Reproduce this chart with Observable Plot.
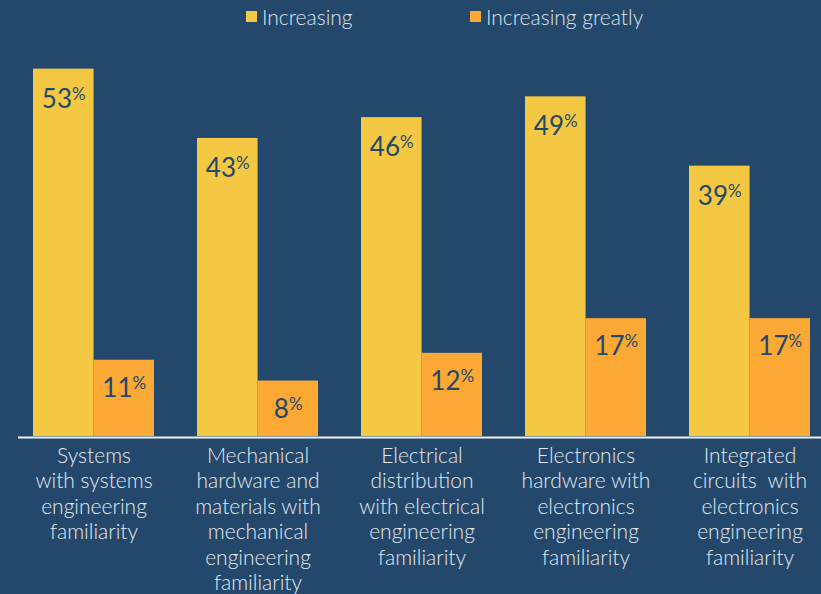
<!DOCTYPE html>
<html>
<head>
<meta charset="utf-8">
<script src="https://cdn.jsdelivr.net/npm/d3@7"></script>
<script src="https://cdn.jsdelivr.net/npm/@observablehq/plot@0.6"></script>
<style>
  html, body { margin: 0; padding: 0; background: #24486b; }
  #wrap { position: relative; width: 821px; height: 594px; background: #24486b; overflow: hidden; font-family: Lato, "Open Sans", sans-serif; }
  #legend { position: absolute; top: 0; left: 0; width: 821px; height: 36px; color: #dde5ee; font-size: 21px; font-weight: 300; }
  .item { position: absolute; top: 4px; display: flex; align-items: center; }
  .sw { width: 11px; height: 11px; margin-right: 5px; }
  #chart svg { display: block; }
</style>
</head>
<body>
<div id="wrap">
  <div id="chart"></div>
  <div id="legend"></div>
</div>
<script>
const categories = [
  "Systems\nwith systems\nengineering\nfamiliarity",
  "Mechanical\nhardware and\nmaterials with\nmechanical\nengineering\nfamiliarity",
  "Electrical\ndistribution\nwith electrical\nengineering\nfamiliarity",
  "Electronics\nhardware with\nelectronics\nengineering\nfamiliarity",
  "Integrated\ncircuits  with\nelectronics\nengineering\nfamiliarity"
];
const series = ["Increasing", "Increasing greatly"];
const increasing = [53, 43, 46, 49, 39];
const increasingGreatly = [11, 8, 12, 17, 17];
const colors = ["#f5c843", "#fba834"];

const dataInc = categories.map((c, i) => ({category: c, value: increasing[i]}));
const dataGreat = categories.map((c, i) => ({category: c, value: increasingGreatly[i]}));

// legend
const legend = document.getElementById("legend");
const legendLeft = [246, 470];
series.forEach((s, i) => {
  const it = document.createElement("div");
  it.className = "item";
  it.style.left = legendLeft[i] + "px";
  it.innerHTML = `<span class="sw" style="background:${colors[i]}"></span><span>${s}</span>`;
  legend.appendChild(it);
});

const half = 60.45;
const plot = Plot.plot({
  width: 821,
  height: 594,
  marginLeft: 18,
  marginRight: 0,
  marginTop: 0,
  marginBottom: 158,
  style: {background: "transparent", fontFamily: "Lato, 'Open Sans', sans-serif"},
  x: {type: "band", domain: categories, paddingInner: 0.264, paddingOuter: 0.0755, align: 0.56, axis: null},
  y: {domain: [0, 62.9], axis: null},
  marks: [
    Plot.barY(dataInc, {x: "category", y: "value", fill: colors[0], insetRight: half, insetLeft: 0}),
    Plot.barY(dataGreat, {x: "category", y: "value", fill: colors[1], insetLeft: half, insetRight: 0}),
    Plot.ruleY([0], {stroke: "#eef1f4", strokeWidth: 2, dy: 1}),
    Plot.text(dataInc, {x: "category", y: "value", text: d => String(d.value), dx: -half / 2, dy: 20, lineAnchor: "top", textAnchor: "middle", fill: "#24486b", fontSize: 26, className: "vlabel"}),
    Plot.text(dataGreat, {x: "category", y: "value", text: d => String(d.value), dx: half / 2, dy: 18, lineAnchor: "top", textAnchor: "middle", fill: "#24486b", fontSize: 26, className: "vlabel"}),
    Plot.text(categories, {x: d => d, y: 0, text: d => d, dy: 8, lineAnchor: "top", textAnchor: "middle", fill: "#e3e9f0", fontSize: 21, fontWeight: 300, lineHeight: 1.215})
  ]
});
document.getElementById("chart").appendChild(plot);

// superscript percent signs
d3.select(plot).selectAll("g.vlabel text").each(function() {
  const t = d3.select(this);
  const num = this.textContent;
  t.text(null);
  t.append("tspan").text(num);
  t.append("tspan").attr("font-size", 17).attr("dy", -8).text("%");
});
</script>
</body>
</html>
